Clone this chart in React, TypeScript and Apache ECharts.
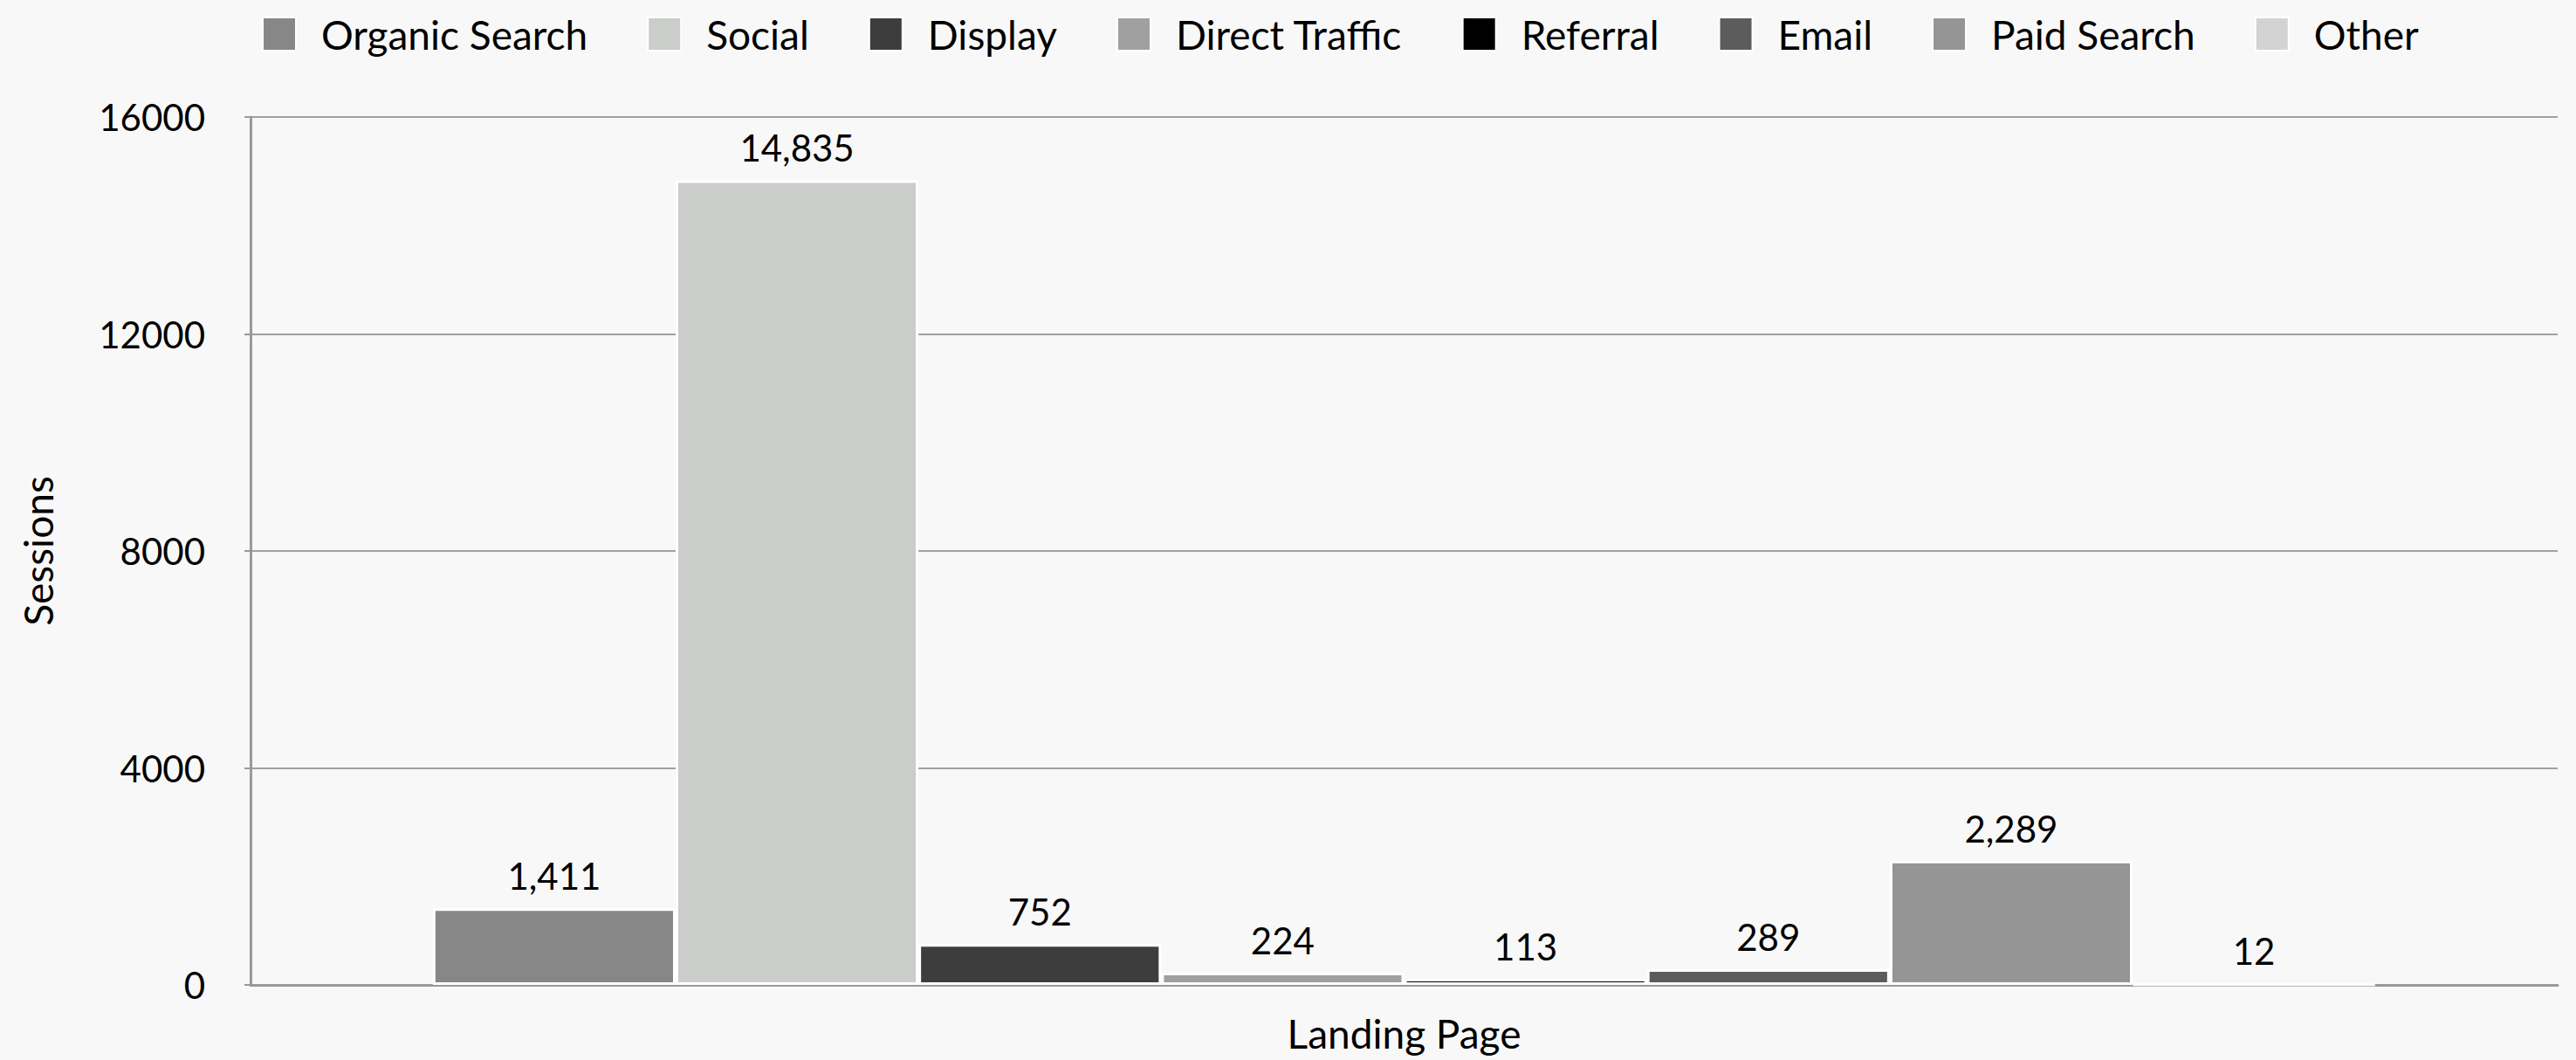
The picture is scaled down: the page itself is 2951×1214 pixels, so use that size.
import React, { useEffect, useRef } from "react";
import * as echarts from "echarts";

const categories = ["Landing Page"];
const seriesNames = ["Organic Search", "Social", "Display", "Direct Traffic", "Referral", "Email", "Paid Search", "Other"];
const seriesValues = [1411, 14835, 752, 224, 113, 289, 2289, 12];
const seriesColors = ["#878787", "#cbcdca", "#3d3d3d", "#a0a0a0", "#000000", "#5c5c5c", "#959595", "#d3d3d3"];
const yTicks = { min: 0, max: 16000, interval: 4000 };

const FONT = "Lato";

export default function App() {
  const ref = useRef<HTMLDivElement>(null);
  useEffect(() => {
    document.body.style.margin = "0";
    const chart = echarts.init(ref.current!, null, { renderer: "svg" });
    chart.setOption({
      animation: false,
      backgroundColor: "#f8f8f8",
      textStyle: { fontFamily: FONT },
      legend: {
        left: 295,
        top: 11,
        itemWidth: 38,
        itemHeight: 38,
        itemGap: 68,
        icon: "rect",
        textStyle: { fontFamily: FONT, fontSize: 46, color: "#000", padding: [0, 0, 0, 24], lineHeight: 46 },
        data: seriesNames,
      },
      grid: { left: 287, right: 21, top: 134, bottom: 86, containLabel: false, outerBoundsMode: "none" },
      xAxis: {
        type: "category",
        data: categories,
        name: "Landing Page",
        nameLocation: "middle",
        nameGap: 32,
        nameTextStyle: { fontFamily: FONT, fontSize: 46, color: "#000" },
        axisLabel: { show: false },
        axisTick: { show: false },
        axisLine: { show: true, lineStyle: { color: "#999", width: 3 } },
      },
      yAxis: {
        type: "value",
        min: yTicks.min,
        max: yTicks.max,
        interval: yTicks.interval,
        name: "Sessions",
        nameLocation: "middle",
        nameGap: 221,
        nameTextStyle: { fontFamily: FONT, fontSize: 46, color: "#000" },
        axisLine: { show: true, lineStyle: { color: "#999", width: 3 } },
        axisTick: { show: true, length: 7, lineStyle: { color: "#999", width: 2 } },
        axisLabel: { fontFamily: FONT, fontSize: 42, color: "#000", margin: 52, formatter: (v: number) => String(v) },
        splitLine: { show: true, lineStyle: { color: "#a0a0a0", width: 2 } },
      },
      series: seriesNames.map((name, i) => ({
        name,
        type: "bar",
        data: [seriesValues[i]],
        barGap: "0%",
        barCategoryGap: "15.8%",
        itemStyle: { color: seriesColors[i], borderColor: "#ffffff", borderWidth: 3 },
        label: {
          show: true,
          position: "top",
          distance: 16,
          fontFamily: FONT,
          fontSize: 42,
          color: "#000",
          formatter: (p: any) => Number(p.value).toLocaleString("en-US"),
        },
      })),
    });
    return () => chart.dispose();
  }, []);
  return <div ref={ref} style={{ width: 2951, height: 1214 }} />;
}
